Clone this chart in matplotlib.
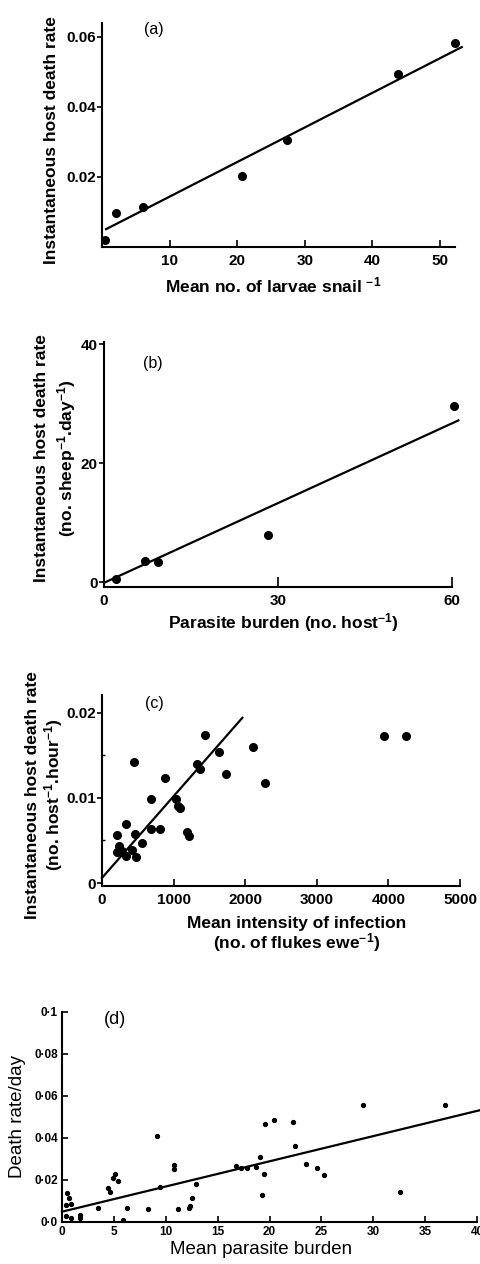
import matplotlib
matplotlib.use("Agg")
import matplotlib.pyplot as plt
import numpy as np

plt.rcParams['font.family'] = ['Liberation Sans', 'DejaVu Sans']
plt.rcParams['mathtext.default'] = 'regular'

# (a) snails
a_x = [0.4, 2.0, 6.0, 20.7, 27.3, 43.7, 52.2]
a_y = [0.002, 0.0097, 0.0114, 0.0203, 0.0306, 0.0494, 0.0583]
a_fit = (0.0045, 0.000989)
a_fit_range = (0.6, 53.2)

# (b) sheep
b_x = [2.1, 7.1, 9.3, 28.2, 60.4]
b_y = [0.5, 3.5, 3.4, 7.9, 29.7]
b_fit = (-0.1, 0.447)
b_fit_range = (0.0, 61.1)

# (c) ewes / flukes
c_x = [215, 238, 285, 215, 331, 340, 416, 472, 458, 556, 682, 808,
       682, 878, 450, 1032, 1055, 1092, 1181, 1218, 1321, 1373, 1438,
       1630, 1732, 2106, 2279, 3936, 4244]
c_y = [0.0056, 0.0044, 0.0038, 0.0037, 0.0032, 0.0069, 0.0039, 0.0031,
       0.0058, 0.0047, 0.0064, 0.0064, 0.0099, 0.0124, 0.0142, 0.0099,
       0.0090, 0.0088, 0.0060, 0.0055, 0.0140, 0.0134, 0.0174, 0.0154,
       0.0128, 0.0160, 0.0117, 0.0173, 0.0173]
c_fit = (0.0006, 9.6e-6)
c_fit_range = (0, 1960)

# (d) mean parasite burden
d_x = [0.45, 0.7, 0.87, 0.35, 0.35, 0.83, 1.73, 1.73, 3.5, 4.46, 4.62,
       4.94, 5.1, 5.4, 5.9, 6.3, 8.3, 9.2, 9.4, 10.8, 10.8, 11.2, 12.2,
       12.3, 12.5, 12.9, 16.8, 17.3, 17.8, 18.7, 19.1, 19.25, 19.5, 19.6,
       20.45, 22.3, 22.45, 23.5, 24.6, 25.3, 29.0, 32.6, 36.9]
d_y = [0.0137, 0.0113, 0.0086, 0.008, 0.003, 0.0021, 0.0033, 0.002,
       0.0065, 0.016, 0.0145, 0.0211, 0.023, 0.0196, 0.001, 0.0065,
       0.0062, 0.0411, 0.0166, 0.0271, 0.0252, 0.006, 0.0068, 0.0076,
       0.0113, 0.018, 0.0268, 0.0259, 0.0259, 0.0263, 0.0311, 0.0129,
       0.0227, 0.0465, 0.0486, 0.0478, 0.0362, 0.0276, 0.0259, 0.0222,
       0.0557, 0.0144, 0.0557]
d_fit = (0.0049, 0.0012)
d_fit_range = (0, 40.3)

W, H = 481, 1264
fig = plt.figure(figsize=(W / 100, H / 100), dpi=100)


def box(left, top, right, bottom):
    # pixel box -> figure fraction
    return [left / W, 1 - bottom / H, (right - left) / W, (bottom - top) / H]


def fit_line(ax, fit, rng):
    xs = np.array(rng)
    ax.plot(xs, fit[0] + fit[1] * xs, color='black', lw=1.6, clip_on=False)


def style(ax):
    for s in ['top', 'right']:
        ax.spines[s].set_visible(False)
    for s in ['left', 'bottom']:
        ax.spines[s].set_linewidth(1.5)


bold = dict(fontsize=12.5, fontweight='bold')
TICK = 11

# ---- (a)
ax = fig.add_axes(box(102, 23, 455, 247))
style(ax)
ax.plot(a_x, a_y, 'o', color='black', ms=5.5, clip_on=False)
fit_line(ax, a_fit, a_fit_range)
ax.set_xlim(0, 52.2)
ax.set_ylim(0, 0.064)
ax.set_xticks([10, 20, 30, 40, 50])
ax.set_yticks([0.02, 0.04, 0.06])
ax.set_yticklabels(['0.02', '0.04', '0.06'])
ax.tick_params(axis='x', direction='in', length=5, width=1.2, labelsize=TICK, pad=5)
ax.tick_params(axis='y', direction='out', length=3.5, width=1.2, labelsize=TICK, pad=1)
for t in ax.get_xticklabels() + ax.get_yticklabels():
    t.set_fontweight('bold')
ax.text(0.147, 0.97, '(a)', transform=ax.transAxes, ha='center', va='center', fontsize=11.5)
fig.text(273 / W, 1 - 285 / H, 'Mean no. of larvae snail $^{-1}$', ha='center', va='center', **bold)
fig.text(52 / W, 1 - 140 / H, 'Instantaneous host death rate', rotation=90,
         ha='center', va='center', **bold)

# ---- (b)
ax = fig.add_axes(box(104, 342, 452, 587))
style(ax)
ax.plot(b_x, b_y, 'o', color='black', ms=5.5, clip_on=False)
fit_line(ax, b_fit, b_fit_range)
ax.set_xlim(0, 60)
ax.set_ylim(-0.8, 40.4)
ax.set_xticks([0, 30, 60])
ax.set_yticks([0, 20, 40])
ax.tick_params(axis='x', direction='in', length=7, width=1.2, labelsize=TICK, pad=5)
ax.tick_params(axis='y', direction='out', length=3.5, width=1.2, labelsize=TICK, pad=1)
for t in ax.get_xticklabels() + ax.get_yticklabels():
    t.set_fontweight('bold')
ax.text(0.141, 0.913, '(b)', transform=ax.transAxes, ha='center', va='center', fontsize=11.5)
fig.text(283 / W, 1 - 623 / H, 'Parasite burden (no. host$^{-1}$)', ha='center', va='center', **bold)
fig.text(56 / W, 1 - 458 / H,
         'Instantaneous host death rate\n(no. sheep$^{-1}$.day$^{-1}$)',
         rotation=90, ha='center', va='center', linespacing=1.4, **bold)

# ---- (c)
ax = fig.add_axes(box(102, 695, 460, 886))
style(ax)
ax.plot(c_x, c_y, 'o', color='black', ms=5.5, clip_on=False)
fit_line(ax, c_fit, c_fit_range)
ax.set_xlim(0, 5000)
ax.set_ylim(-0.00035, 0.0221)
ax.set_xticks([0, 1000, 2000, 3000, 4000, 5000])
ax.set_yticks([0, 0.01, 0.02])
ax.set_yticklabels(['0', '0.01', '0.02'])
ax.set_yticks([0.005, 0.015], minor=True)
ax.tick_params(axis='x', direction='in', length=5, width=1.2, labelsize=TICK, pad=5)
ax.tick_params(axis='y', direction='out', length=3.5, width=1.2, labelsize=TICK, pad=1)
ax.tick_params(axis='y', which='minor', direction='in', length=2.5, width=1)
for t in ax.get_xticklabels() + ax.get_yticklabels():
    t.set_fontweight('bold')
ax.text(0.145, 0.953, '(c)', transform=ax.transAxes, ha='center', va='center', fontsize=11.5)
fig.text(297 / W, 1 - 935 / H,
         'Mean intensity of infection\n(no. of flukes ewe$^{-1}$)',
         ha='center', va='center', linespacing=1.05, **bold)
fig.text(45 / W, 1 - 795 / H,
         'Instantaneous host death rate\n(no. host$^{-1}$.hour$^{-1}$)',
         rotation=90, ha='center', va='center', linespacing=1.1, **bold)

# ---- (d)
ax = fig.add_axes(box(62, 1012, 477, 1222))
style(ax)
ax.plot(d_x, d_y, 'o', color='black', ms=2.8, clip_on=False)
fit_line(ax, d_fit, d_fit_range)
ax.set_xlim(0, 40)
ax.set_ylim(0, 0.1)
ax.set_xticks(np.arange(0, 41, 5))
ax.set_yticks([0, 0.02, 0.04, 0.06, 0.08, 0.1])
ax.set_yticklabels(['0\u00b70', '0\u00b702', '0\u00b704', '0\u00b706', '0\u00b708', '0\u00b71'])
ax.tick_params(axis='both', direction='in', length=4, width=1.2, labelsize=8.5, pad=3)
for t in ax.get_xticklabels() + ax.get_yticklabels():
    t.set_fontweight('bold')
ax.text(0.128, 0.962, '(d)', transform=ax.transAxes, ha='center', va='center', fontsize=13)
fig.text(261 / W, 1 - 1250 / H, 'Mean parasite burden', ha='center', va='center', fontsize=13.5)
fig.text(18 / W, 1 - 1117 / H, 'Death rate/day', rotation=90, ha='center', va='center', fontsize=13.5)

fig.savefig('out.png', dpi=100)
